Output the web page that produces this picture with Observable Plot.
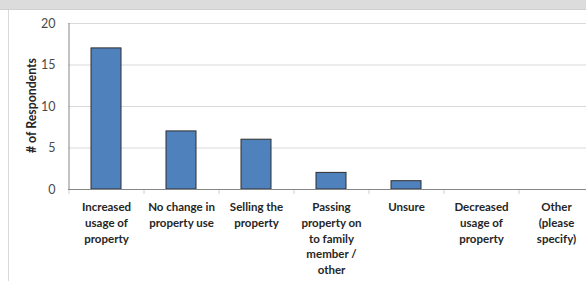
<!DOCTYPE html>
<html><head><meta charset="utf-8">
<script src="https://cdn.jsdelivr.net/npm/d3@7"></script>
<script src="https://cdn.jsdelivr.net/npm/@observablehq/plot@0.6"></script>
<style>
html,body{margin:0;padding:0;background:#fff;overflow:hidden;width:586px;height:281px;}
#band{position:absolute;left:0;top:0;width:586px;height:9px;background:#dcdcdc;border-bottom:1px solid #d0d0d0;}
#vline{position:absolute;left:8px;top:10px;width:1px;height:271px;background:#d9d9d9;}
#chart{position:absolute;left:0;top:0;}
#chart svg{max-width:none !important;}
</style></head>
<body>
<div id="band"></div><div id="vline"></div>
<div id="chart"></div>
<script>
const categories = ["Increased\nusage of\nproperty","No change in\nproperty use","Selling the\nproperty","Passing\nproperty on\nto family\nmember /\nother","Unsure","Decreased\nusage of\nproperty","Other\n(please\nspecify)"];
const counts = [17, 7, 6, 2, 1, 0, 0];
const yTicks = [0, 5, 10, 15, 20];
const yTitle = "# of Respondents";

const data = categories.map((c, i) => ({cat: c, n: counts[i]}));
const W = 600, step = (593 - 68) / categories.length;
const font = "Lato, 'Liberation Sans', sans-serif";

const chart = Plot.plot({
  width: W, height: 281,
  marginLeft: 68, marginRight: W - 593, marginTop: 23, marginBottom: 92,
  style: {fontFamily: font, background: "transparent", overflow: "visible", maxWidth: "none"},
  x: {domain: categories, paddingInner: 0.6, paddingOuter: 0.3},
  y: {domain: [0, 20]},
  marks: [
    Plot.gridY(yTicks, {stroke: "#d9d9d9", strokeOpacity: 1}),
    Plot.barY(data, {x: "cat", y: "n", fill: "#4f81bd", stroke: "#2e2e2e", strokeWidth: 1}),
    Plot.ruleX(categories, {x: d => d, y1: 0, y2: 0, dx: -step / 2, insetBottom: -5, stroke: "#d0d0d0"}),
    Plot.ruleY([0], {stroke: "#868686"}),
    Plot.ruleX([0], {x: () => categories[0], dx: -step / 2, stroke: "#868686"}),
    Plot.axisY(yTicks, {tickSize: 0, tickPadding: 13, fontSize: 12.5, fill: "#4a4a4a", label: null}),
    Plot.axisX({tickSize: 0, tickPadding: 10, fontSize: 11.5, fontWeight: "bold", fill: "#262626", lineHeight: 1.38, label: null}),
    Plot.text([yTitle], {frameAnchor: "left", textAnchor: "middle", rotate: -90, dx: -36, dy: -1, fontSize: 12.3, fontWeight: "bold", fill: "#262626"})
  ]
});
document.getElementById("chart").appendChild(chart);
</script>
</body></html>
